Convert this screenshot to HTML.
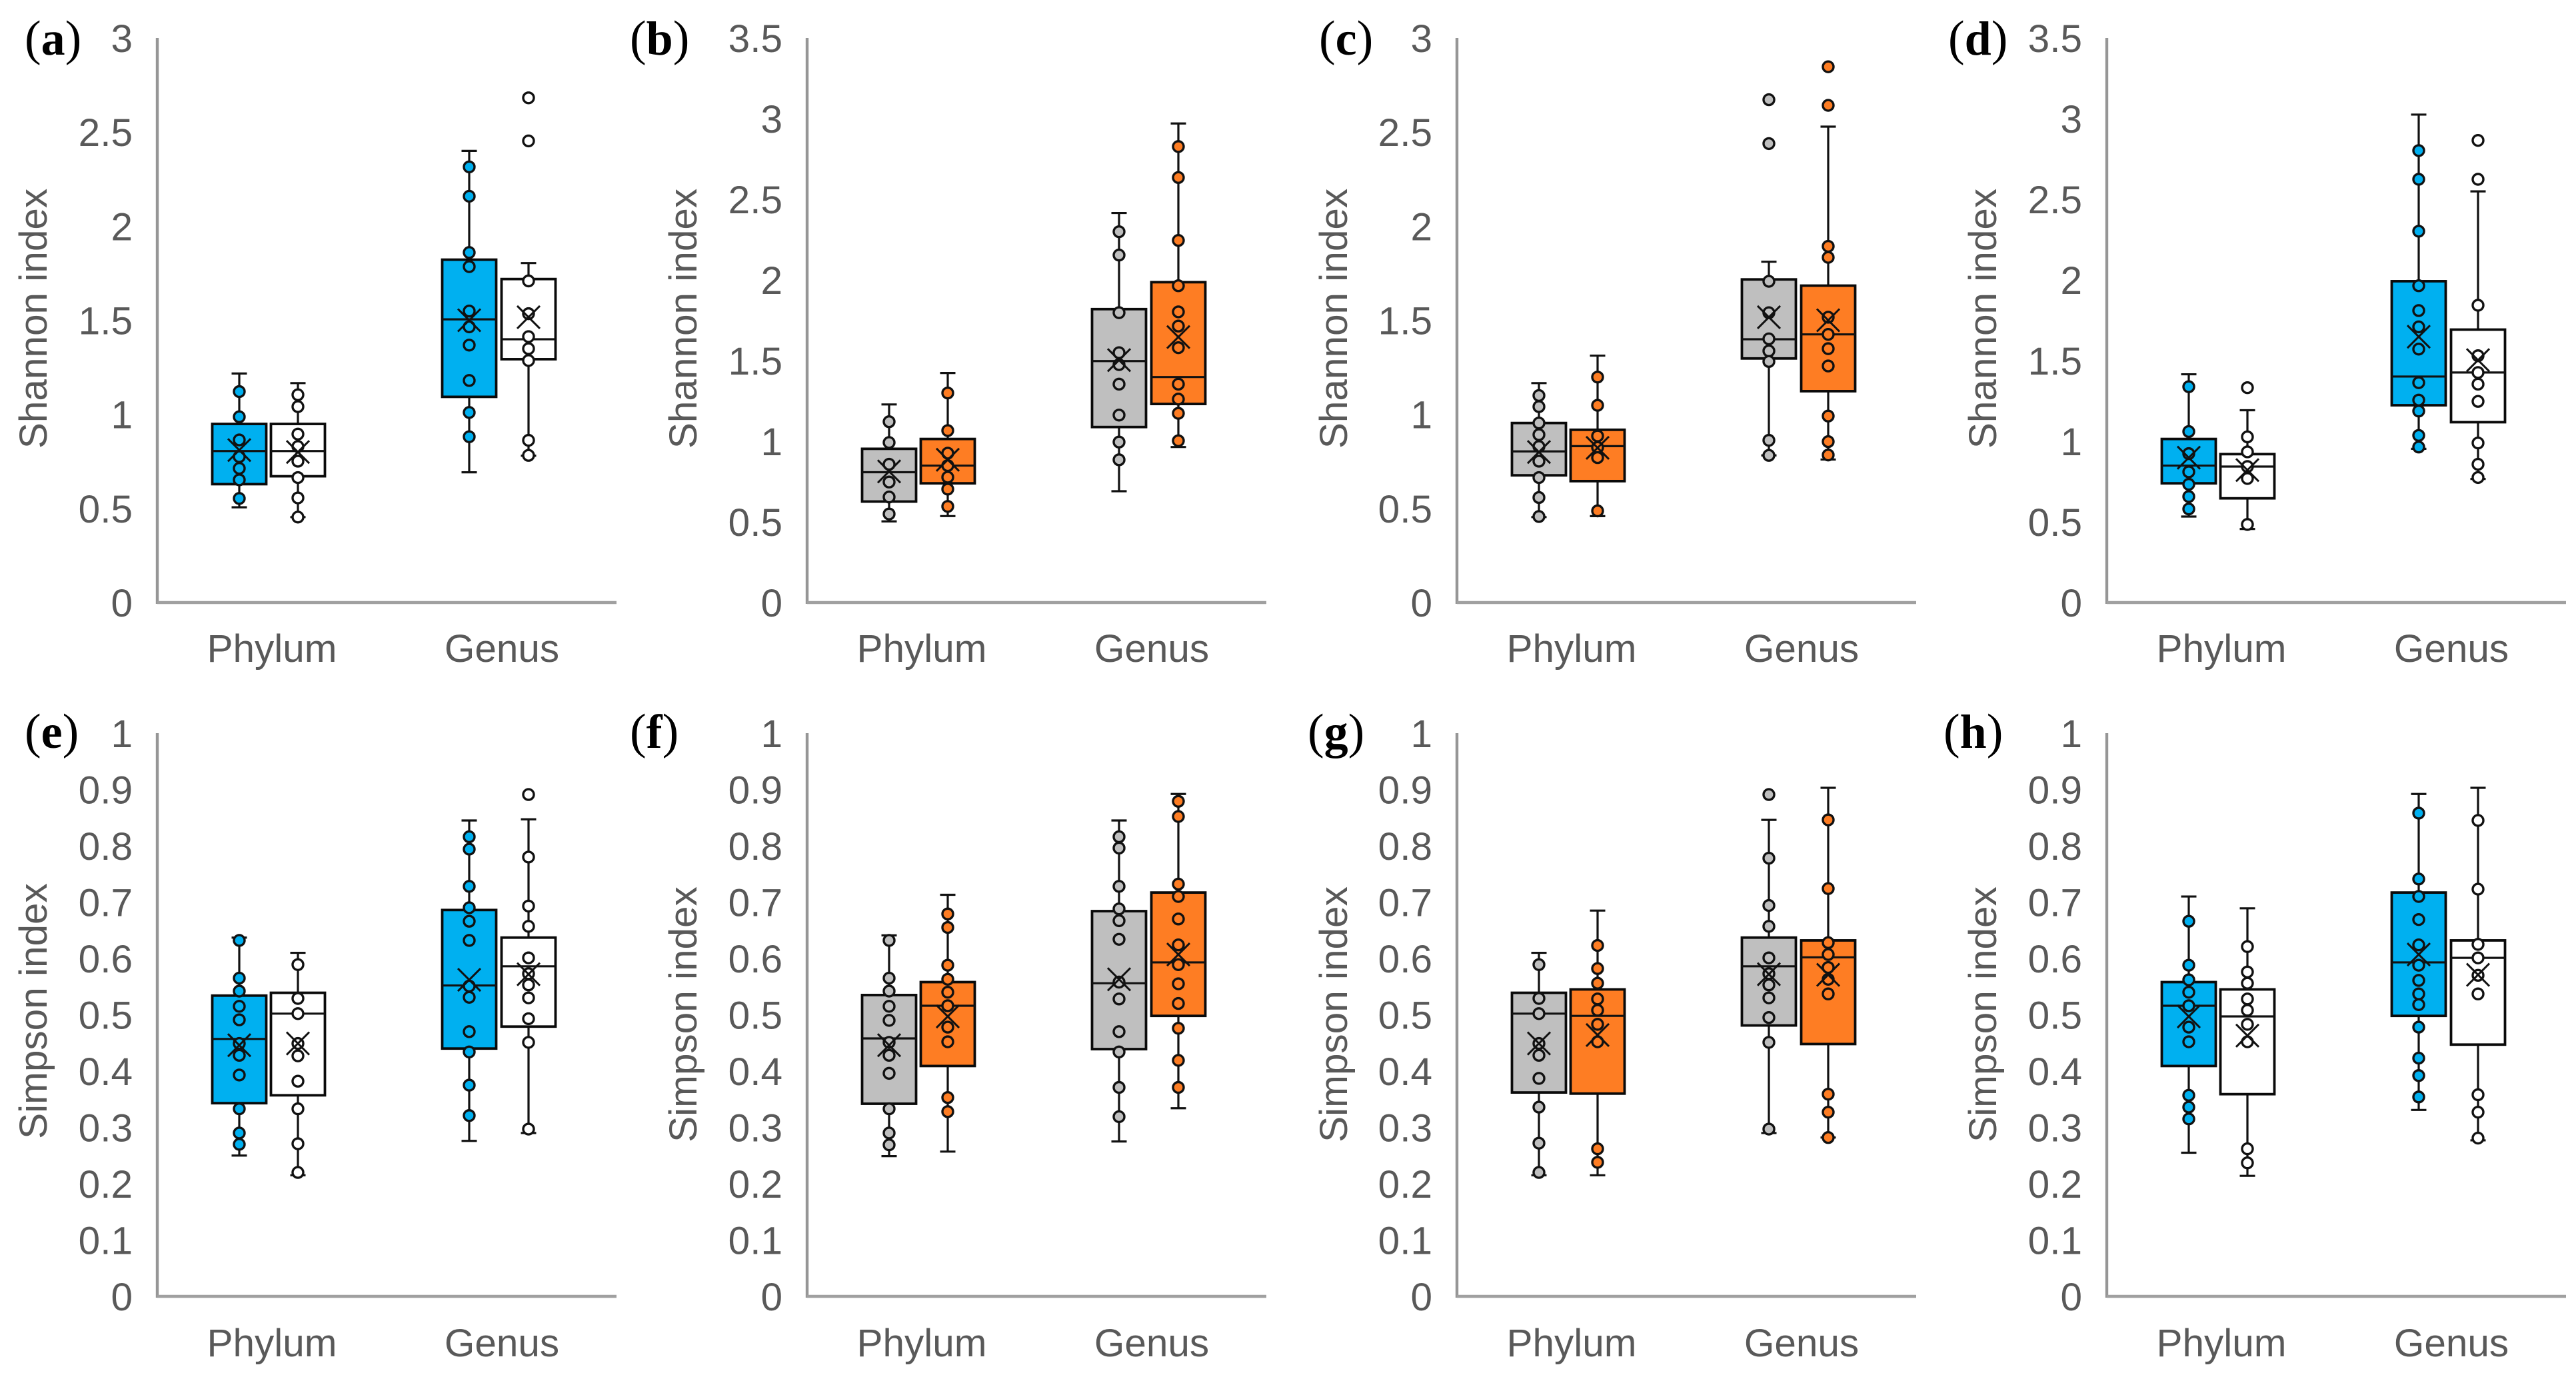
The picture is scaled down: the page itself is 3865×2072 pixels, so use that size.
<!DOCTYPE html>
<html lang="en">
<head>
<meta charset="utf-8">
<title>Shannon and Simpson index box plots</title>
<style>
html,body{margin:0;padding:0;background:#fff;}
svg{display:block;font-family:"Liberation Sans",sans-serif;}
.tick,.cat,.ytitle{fill:#595959;font-size:58.5px;}
.plabel{font-family:"Liberation Serif",serif;font-weight:normal;font-size:74px;fill:#000;}
.plabel tspan{font-weight:bold;font-size:72px;}
</style>
</head>
<body>
<svg id="figure" width="3865" height="2072" viewBox="0 0 3865 2072" xmlns="http://www.w3.org/2000/svg">
<rect width="3865" height="2072" fill="#fff"/>
<g id="panel-a"><text class="plabel" x="37" y="82">(<tspan>a</tspan>)</text><text class="ytitle" text-anchor="middle" transform="translate(70,478) rotate(-90)">Shannon index</text></g>
<g id="panel-b"><text class="plabel" x="945" y="82">(<tspan>b</tspan>)</text><text class="ytitle" text-anchor="middle" transform="translate(1045,478) rotate(-90)">Shannon index</text></g>
<g id="panel-c"><text class="plabel" x="1979" y="82">(<tspan>c</tspan>)</text><text class="ytitle" text-anchor="middle" transform="translate(2021,478) rotate(-90)">Shannon index</text></g>
<g id="panel-d"><text class="plabel" x="2923" y="82">(<tspan>d</tspan>)</text><text class="ytitle" text-anchor="middle" transform="translate(2995,478) rotate(-90)">Shannon index</text></g>
<g id="panel-e"><text class="plabel" x="37" y="1122">(<tspan>e</tspan>)</text><text class="ytitle" text-anchor="middle" transform="translate(70,1517) rotate(-90)">Simpson index</text></g>
<g id="panel-f"><text class="plabel" x="945" y="1122">(<tspan>f</tspan>)</text><text class="ytitle" text-anchor="middle" transform="translate(1045,1522) rotate(-90)">Simpson index</text></g>
<g id="panel-g"><text class="plabel" x="1962" y="1122">(<tspan>g</tspan>)</text><text class="ytitle" text-anchor="middle" transform="translate(2021,1522) rotate(-90)">Simpson index</text></g>
<g id="panel-h"><text class="plabel" x="2916" y="1122">(<tspan>h</tspan>)</text><text class="ytitle" text-anchor="middle" transform="translate(2995,1522) rotate(-90)">Simpson index</text></g>
</svg>
<script>
// Categories and tick labels
const categories = ["Phylum", "Genus"];
const ticks3 = ["0", "0.5", "1", "1.5", "2", "2.5", "3"];
const ticks35 = ["0", "0.5", "1", "1.5", "2", "2.5", "3", "3.5"];
const ticks1 = ["0", "0.1", "0.2", "0.3", "0.4", "0.5", "0.6", "0.7", "0.8", "0.9", "1"];

// Stats order: low whisker, Q1, median, Q3, high whisker, mean
const aPhylumLeft = [0.506, 0.629, 0.805, 0.949, 1.217, 0.81];
const aPhylumLeftPts = [1.121, 0.987, 0.864, 0.775, 0.713, 0.652, 0.553];
const aPhylumRight = [0.454, 0.671, 0.805, 0.949, 1.166, 0.80];
const aPhylumRightPts = [1.104, 1.041, 0.895, 0.829, 0.751, 0.664, 0.556, 0.454];
const aGenusLeft = [0.692, 1.093, 1.505, 1.822, 2.40, 1.50];
const aGenusLeftPts = [2.315, 2.159, 1.86, 1.785, 1.549, 1.465, 1.368, 1.18, 1.01, 0.881];
const aGenusRight = [0.78, 1.293, 1.399, 1.719, 1.804, 1.516];
const aGenusRightPts = [2.682, 2.453, 1.709, 1.535, 1.413, 1.349, 1.286, 0.862, 0.782];

const bPhylumLeft = [0.503, 0.626, 0.808, 0.953, 1.228, 0.813];
const bPhylumLeftPts = [1.121, 0.992, 0.857, 0.747, 0.654, 0.549];
const bPhylumRight = [0.536, 0.739, 0.849, 1.014, 1.423, 0.885];
const bPhylumRightPts = [1.299, 1.066, 0.926, 0.849, 0.777, 0.703, 0.596];
const bGenusLeft = [0.69, 1.088, 1.497, 1.819, 2.415, 1.503];
const bGenusLeftPts = [2.299, 2.154, 1.797, 1.549, 1.475, 1.354, 1.162, 0.995, 0.885];
const bGenusRight = [0.964, 1.231, 1.398, 1.986, 2.97, 1.646];
const bGenusRightPts = [2.827, 2.635, 2.245, 1.964, 1.802, 1.714, 1.58, 1.354, 1.261, 1.173, 1.003];

const cPhylumLeft = [0.454, 0.676, 0.803, 0.954, 1.166, 0.80];
const cPhylumLeftPts = [1.10, 1.041, 0.954, 0.892, 0.829, 0.751, 0.664, 0.558, 0.457];
const cPhylumRight = [0.459, 0.645, 0.831, 0.918, 1.312, 0.822];
const cPhylumRightPts = [1.198, 1.048, 0.885, 0.824, 0.77, 0.487];
const cGenusLeft = [0.782, 1.297, 1.399, 1.717, 1.811, 1.516];
const cGenusLeftPts = [2.672, 2.439, 1.707, 1.54, 1.401, 1.337, 1.281, 0.862, 0.782];
const cGenusRight = [0.76, 1.123, 1.425, 1.684, 2.529, 1.50];
const cGenusRightPts = [2.847, 2.642, 1.893, 1.834, 1.516, 1.425, 1.349, 1.257, 0.991, 0.855, 0.784];

const dPhylumLeft = [0.533, 0.739, 0.849, 1.014, 1.415, 0.898];
const dPhylumLeftPts = [1.338, 1.06, 0.923, 0.81, 0.733, 0.657, 0.58];
const dPhylumRight = [0.456, 0.646, 0.843, 0.92, 1.192, 0.821];
const dPhylumRightPts = [1.332, 1.027, 0.934, 0.843, 0.769, 0.484];
const dGenusLeft = [0.953, 1.223, 1.401, 1.992, 3.025, 1.648];
const dGenusLeftPts = [2.802, 2.624, 2.302, 1.964, 1.81, 1.709, 1.571, 1.363, 1.255, 1.187, 1.036, 0.964];
const dGenusRight = [0.766, 1.118, 1.426, 1.692, 2.549, 1.503];
const dGenusRightPts = [2.865, 2.624, 1.843, 1.53, 1.426, 1.354, 1.247, 0.989, 0.857, 0.775];

const ePhylumLeft = [0.25, 0.343, 0.457, 0.534, 0.637, 0.446];
const ePhylumLeftPts = [0.632, 0.565, 0.542, 0.515, 0.491, 0.449, 0.428, 0.393, 0.333, 0.29, 0.27];
const ePhylumRight = [0.215, 0.357, 0.502, 0.539, 0.61, 0.449];
const ePhylumRightPts = [0.589, 0.529, 0.502, 0.449, 0.427, 0.382, 0.333, 0.271, 0.22];
const eGenusLeft = [0.276, 0.44, 0.552, 0.686, 0.845, 0.562];
const eGenusLeftPts = [0.816, 0.794, 0.728, 0.69, 0.666, 0.632, 0.551, 0.531, 0.47, 0.434, 0.375, 0.321];
const eGenusRight = [0.29, 0.479, 0.586, 0.637, 0.847, 0.572];
const eGenusRightPts = [0.891, 0.78, 0.693, 0.657, 0.601, 0.573, 0.553, 0.53, 0.493, 0.451, 0.297];

const fPhylumLeft = [0.249, 0.342, 0.458, 0.535, 0.641, 0.446];
const fPhylumLeftPts = [0.632, 0.565, 0.542, 0.515, 0.49, 0.451, 0.428, 0.396, 0.333, 0.29, 0.269];
const fPhylumRight = [0.257, 0.409, 0.516, 0.558, 0.713, 0.497];
const fPhylumRightPts = [0.679, 0.655, 0.588, 0.563, 0.54, 0.516, 0.478, 0.452, 0.353, 0.328];
const fGenusLeft = [0.275, 0.439, 0.556, 0.684, 0.845, 0.563];
const fGenusLeftPts = [0.816, 0.796, 0.728, 0.688, 0.667, 0.634, 0.558, 0.528, 0.47, 0.434, 0.371, 0.319];
const fGenusRight = [0.334, 0.498, 0.593, 0.717, 0.892, 0.607];
const fGenusRightPts = [0.879, 0.852, 0.732, 0.71, 0.67, 0.624, 0.589, 0.555, 0.52, 0.476, 0.419, 0.371];

const gPhylumLeft = [0.215, 0.362, 0.502, 0.539, 0.61, 0.449];
const gPhylumLeftPts = [0.589, 0.529, 0.502, 0.449, 0.428, 0.387, 0.336, 0.272, 0.22];
const gPhylumRight = [0.215, 0.36, 0.498, 0.545, 0.685, 0.464];
const gPhylumRightPts = [0.623, 0.582, 0.556, 0.528, 0.508, 0.483, 0.452, 0.262, 0.238];
const gGenusLeft = [0.29, 0.481, 0.586, 0.637, 0.846, 0.572];
const gGenusLeftPts = [0.891, 0.778, 0.694, 0.657, 0.601, 0.573, 0.553, 0.53, 0.495, 0.451, 0.297];
const gGenusRight = [0.282, 0.448, 0.602, 0.632, 0.903, 0.571];
const gGenusRightPts = [0.846, 0.724, 0.628, 0.607, 0.584, 0.563, 0.537, 0.359, 0.327, 0.282];

const hPhylumLeft = [0.255, 0.409, 0.516, 0.558, 0.71, 0.497];
const hPhylumLeftPts = [0.666, 0.588, 0.562, 0.54, 0.516, 0.478, 0.452, 0.357, 0.336, 0.315];
const hPhylumRight = [0.214, 0.359, 0.497, 0.545, 0.689, 0.463];
const hPhylumRightPts = [0.621, 0.576, 0.556, 0.528, 0.508, 0.483, 0.452, 0.262, 0.237];
const hGenusLeft = [0.331, 0.498, 0.593, 0.717, 0.892, 0.607];
const hGenusLeftPts = [0.858, 0.741, 0.71, 0.669, 0.624, 0.588, 0.561, 0.537, 0.518, 0.478, 0.423, 0.392, 0.354];
const hGenusRight = [0.277, 0.447, 0.601, 0.632, 0.903, 0.571];
const hGenusRightPts = [0.845, 0.723, 0.625, 0.601, 0.57, 0.537, 0.358, 0.327, 0.281];

const BLUE = "#00B0F0", WHITE = "#FFFFFF", GREY = "#BFBFBF", ORANGE = "#FE7D23";
const panels = [
  {id:"a", axisX:236,  row:0, ticks:ticks3,  colors:[BLUE, WHITE],  stats:[aPhylumLeft,aPhylumRight,aGenusLeft,aGenusRight], pts:[aPhylumLeftPts,aPhylumRightPts,aGenusLeftPts,aGenusRightPts]},
  {id:"b", axisX:1211, row:0, ticks:ticks35, colors:[GREY, ORANGE], stats:[bPhylumLeft,bPhylumRight,bGenusLeft,bGenusRight], pts:[bPhylumLeftPts,bPhylumRightPts,bGenusLeftPts,bGenusRightPts]},
  {id:"c", axisX:2186, row:0, ticks:ticks3,  colors:[GREY, ORANGE], stats:[cPhylumLeft,cPhylumRight,cGenusLeft,cGenusRight], pts:[cPhylumLeftPts,cPhylumRightPts,cGenusLeftPts,cGenusRightPts]},
  {id:"d", axisX:3161, row:0, ticks:ticks35, colors:[BLUE, WHITE],  stats:[dPhylumLeft,dPhylumRight,dGenusLeft,dGenusRight], pts:[dPhylumLeftPts,dPhylumRightPts,dGenusLeftPts,dGenusRightPts]},
  {id:"e", axisX:236,  row:1, ticks:ticks1,  colors:[BLUE, WHITE],  stats:[ePhylumLeft,ePhylumRight,eGenusLeft,eGenusRight], pts:[ePhylumLeftPts,ePhylumRightPts,eGenusLeftPts,eGenusRightPts]},
  {id:"f", axisX:1211, row:1, ticks:ticks1,  colors:[GREY, ORANGE], stats:[fPhylumLeft,fPhylumRight,fGenusLeft,fGenusRight], pts:[fPhylumLeftPts,fPhylumRightPts,fGenusLeftPts,fGenusRightPts]},
  {id:"g", axisX:2186, row:1, ticks:ticks1,  colors:[GREY, ORANGE], stats:[gPhylumLeft,gPhylumRight,gGenusLeft,gGenusRight], pts:[gPhylumLeftPts,gPhylumRightPts,gGenusLeftPts,gGenusRightPts]},
  {id:"h", axisX:3161, row:1, ticks:ticks1,  colors:[BLUE, WHITE],  stats:[hPhylumLeft,hPhylumRight,hGenusLeft,hGenusRight], pts:[hPhylumLeftPts,hPhylumRightPts,hGenusLeftPts,hGenusRightPts]}
];

const NS = "http://www.w3.org/2000/svg";
const rowGeom = [{top:57, bottom:904, catY:993}, {top:1100, bottom:1945, catY:2035}];
const SLOT_OFFSETS = [123, 211, 468, 557];
const CAT_OFFSETS = [172, 517];
const AXIS_LEN = 689, BOX_W = 81, CAP_W = 23, X_HALF = 17;

function el(parent, tag, attrs, text) {
  const n = document.createElementNS(NS, tag);
  for (const k in attrs) n.setAttribute(k, attrs[k]);
  if (text !== undefined) n.textContent = text;
  parent.appendChild(n);
  return n;
}
function line(parent, x1, y1, x2, y2, stroke, width) {
  return el(parent, "line", {x1:x1, y1:y1, x2:x2, y2:y2, stroke:stroke, "stroke-width":width});
}

panels.forEach(function (p) {
  const g = document.getElementById("panel-" + p.id);
  const geom = rowGeom[p.row];
  const maxVal = parseFloat(p.ticks[p.ticks.length - 1]);
  const y = function (v) { return geom.bottom - (v / maxVal) * (geom.bottom - geom.top); };

  const yAxis = line(g, p.axisX, geom.top, p.axisX, geom.bottom + 2, "#969696", 4.4);
  
  
  const xAxis = line(g, p.axisX, geom.bottom, p.axisX + AXIS_LEN, geom.bottom, "#A0A0A0", 4.4);
  
  

  p.ticks.forEach(function (t) {
    const tick = el(g, "text", {"class":"tick", x:p.axisX - 37, y:y(parseFloat(t)) + 21, "text-anchor":"end"}, t);
    
    
  });

  categories.forEach(function (c, i) {
    const cat = el(g, "text", {"class":"cat", x:p.axisX + CAT_OFFSETS[i], y:geom.catY, "text-anchor":"middle"}, c);
    
    
  });

  p.stats.forEach(function (s, i) {
    const cx = p.axisX + SLOT_OFFSETS[i];
    const fill = p.colors[i % 2];
    const group = el(g, "g", {});
    
    

    const whisker = line(group, cx, y(s[0]), cx, y(s[4]), "#111", 3.2);
    
    
    const capLow = line(group, cx - CAP_W / 2, y(s[0]), cx + CAP_W / 2, y(s[0]), "#111", 3.2);
    
    
    const capHigh = line(group, cx - CAP_W / 2, y(s[4]), cx + CAP_W / 2, y(s[4]), "#111", 3.2);
    
    

    const box = el(group, "rect", {x:cx - BOX_W / 2, y:y(s[3]), width:BOX_W, height:y(s[1]) - y(s[3]), fill:fill, stroke:"#0A0A0A", "stroke-width":3.8});
    
    
    const median = line(group, cx - BOX_W / 2, y(s[2]), cx + BOX_W / 2, y(s[2]), "#111", 3.2);
    
    

    p.pts[i].forEach(function (v) {
      const dot = el(group, "circle", {cx:cx, cy:y(v), r:8, fill:fill, stroke:"#111", "stroke-width":3.4});
      
      
    });

    const my = y(s[5]);
    const m1 = line(group, cx - X_HALF, my - X_HALF, cx + X_HALF, my + X_HALF, "#111", 3);
    
    
    const m2 = line(group, cx - X_HALF, my + X_HALF, cx + X_HALF, my - X_HALF, "#111", 3);
    
    
  });
});
</script>
</body>
</html>
